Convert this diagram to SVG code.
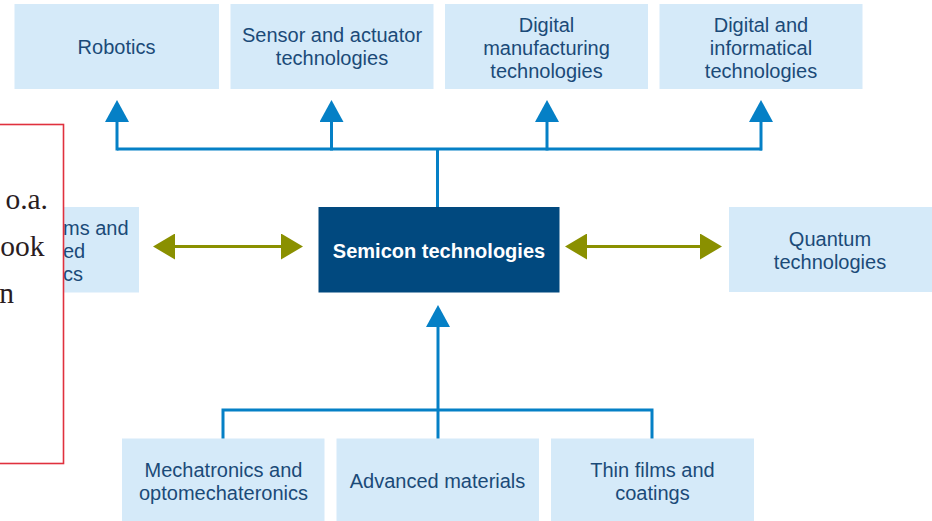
<svg xmlns="http://www.w3.org/2000/svg" width="932" height="521" viewBox="0 0 932 521">
  <style>
    .box { fill: #d5eaf9; }
    .lbl { font-family: "Liberation Sans", Arial, sans-serif; font-size: 20px; fill: #1b4a78; text-anchor: middle; }
    .core { fill: #01497f; }
    .core-lbl { font-family: "Liberation Sans", Arial, sans-serif; font-size: 20px; font-weight: bold; fill: #ffffff; text-anchor: middle; }
    .wire { fill: none; stroke: #0580c6; stroke-width: 3; }
    .link { fill: none; stroke: #8a9000; stroke-width: 3; }
    .note { fill: #ffffff; stroke: #e0313e; stroke-width: 1.6; }
    .note-txt { font-family: "Liberation Serif", "DejaVu Serif", serif; font-size: 29.5px; fill: #2a1d1f; text-anchor: end; }
  </style>
  <defs>
    <marker id="tipBlue" markerUnits="userSpaceOnUse" viewBox="0 0 22 24" refX="0" refY="12" markerWidth="22" markerHeight="24" orient="auto">
      <path d="M0,0 L22,12 L0,24 z" fill="#0580c6"/>
    </marker>
    <marker id="tipOlive" markerUnits="userSpaceOnUse" viewBox="0 0 22 26" refX="0" refY="13" markerWidth="22" markerHeight="26" orient="auto-start-reverse">
      <path d="M0,0 L22,13 L0,26 z" fill="#8a9000"/>
    </marker>
  </defs>

  <!-- top row -->
  <g id="robotics">
    <rect class="box" x="14.5" y="4" width="204.5" height="85"/>
    <text class="lbl" x="116.5" y="54">Robotics</text>
  </g>
  <g id="sensor-actuator">
    <rect class="box" x="230.5" y="4" width="203" height="85"/>
    <text class="lbl" x="332" y="42">Sensor and actuator</text>
    <text class="lbl" x="332" y="65">technologies</text>
  </g>
  <g id="digital-manufacturing">
    <rect class="box" x="445" y="4" width="203" height="85"/>
    <text class="lbl" x="546.5" y="31.5">Digital</text>
    <text class="lbl" x="546.5" y="54.5">manufacturing</text>
    <text class="lbl" x="546.5" y="77.5">technologies</text>
  </g>
  <g id="digital-informatical">
    <rect class="box" x="659.5" y="4" width="203" height="85"/>
    <text class="lbl" x="761" y="31.5">Digital and</text>
    <text class="lbl" x="761" y="54.5">informatical</text>
    <text class="lbl" x="761" y="77.5">technologies</text>
  </g>

  <!-- middle row -->
  <g id="embedded-systems">
    <rect class="box" x="0" y="207" width="139" height="85.5"/>
    <text class="lbl" x="63" y="235" style="text-anchor:start">ms and</text>
    <text class="lbl" x="63" y="258" style="text-anchor:start">ed</text>
    <text class="lbl" x="63" y="281" style="text-anchor:start">cs</text>
  </g>
  <g id="semicon">
    <rect class="core" x="318.5" y="207" width="241" height="85.5"/>
    <text class="core-lbl" x="439" y="257.5">Semicon technologies</text>
  </g>
  <g id="quantum">
    <rect class="box" x="729" y="207" width="204" height="85"/>
    <text class="lbl" x="830" y="246">Quantum</text>
    <text class="lbl" x="830" y="269">technologies</text>
  </g>

  <!-- bottom row -->
  <g id="mechatronics">
    <rect class="box" x="122" y="438.5" width="202.5" height="86"/>
    <text class="lbl" x="223.5" y="476.5">Mechatronics and</text>
    <text class="lbl" x="223.5" y="499.5">optomechateronics</text>
  </g>
  <g id="advanced-materials">
    <rect class="box" x="336.5" y="438.5" width="202.5" height="86"/>
    <text class="lbl" x="437.5" y="488">Advanced materials</text>
  </g>
  <g id="thin-films">
    <rect class="box" x="551" y="438.5" width="203" height="86"/>
    <text class="lbl" x="652.5" y="476.5">Thin films and</text>
    <text class="lbl" x="652.5" y="499.5">coatings</text>
  </g>

  <!-- connectors -->
  <g id="connectors">
    <path class="wire" d="M117,149 H762"/>
    <path class="wire" d="M437.5,149 V207"/>
    <path class="wire" d="M117,150.5 V122" marker-end="url(#tipBlue)"/>
    <path class="wire" d="M331.5,150.5 V122" marker-end="url(#tipBlue)"/>
    <path class="wire" d="M547,150.5 V122" marker-end="url(#tipBlue)"/>
    <path class="wire" d="M761,150.5 V122" marker-end="url(#tipBlue)"/>

    <path class="wire" d="M223,438.5 V410 H652 V438.5"/>
    <path class="wire" d="M438,438.5 V327" marker-end="url(#tipBlue)"/>

    <path class="link" d="M175,246.5 H281" marker-start="url(#tipOlive)" marker-end="url(#tipOlive)"/>
    <path class="link" d="M587,246.5 H700" marker-start="url(#tipOlive)" marker-end="url(#tipOlive)"/>
  </g>

  <!-- overlapping note frame -->
  <g id="note">
    <rect class="note" x="-2" y="124.5" width="65.5" height="339"/>
    <text class="note-txt" x="48" y="209">o.a.</text>
    <text class="note-txt" x="44.5" y="256">ook</text>
    <text class="note-txt" x="14" y="303">n</text>
  </g>
</svg>
